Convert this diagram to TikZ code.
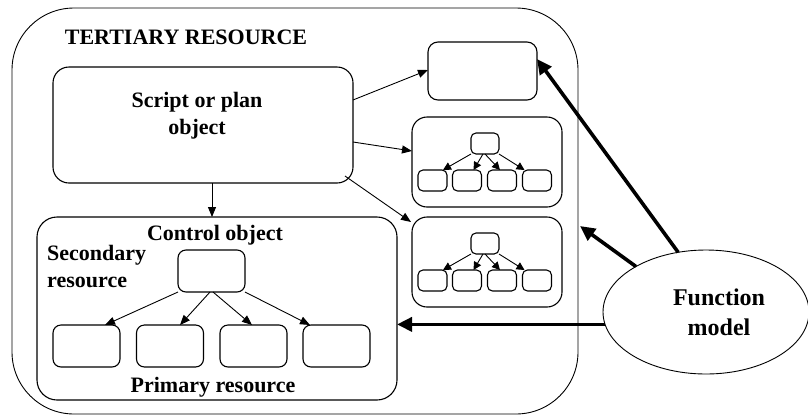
\documentclass[tikz,border=0pt]{standalone}
\usepackage{fontspec}
\setmainfont{Liberation Serif}
\usetikzlibrary{arrows.meta,calc,shapes.geometric}
\begin{document}
\begin{tikzpicture}[x=1pt,y=-1pt,
  rbox/.style={draw,line width=1.1pt,rounded corners=#1,inner sep=0pt,outer sep=0pt},
  rbox/.default=8pt,
  lbl/.style={font=\fontsize{22}{27}\selectfont\bfseries,inner sep=0pt,align=center},
  thin/.style={line width=0.9pt,-{Triangle[length=10pt,width=8pt]}},
  small/.style={line width=0.9pt,-{Triangle[length=8pt,width=8pt]}},
  thick/.style={line width=3.6pt,-{Triangle[length=15pt,width=14pt]}}]
\useasboundingbox (0,0) rectangle (808,416);
% outer tertiary
\node[draw,line width=0.9pt,rounded corners=62pt,minimum width=566pt,minimum height=406pt,inner sep=0pt,outer sep=0pt] (tert) at (295,211) {};
\node[lbl,anchor=center] (tlab) at (186,37) {TERTIARY RESOURCE};
% script box
\node[rbox=16pt,minimum width=300pt,minimum height=116pt] (sp) at (203,125) {};
\node[lbl] (splab) at (197,116) {Script or plan\\object};
% top right box
\node[rbox=10pt,minimum width=109pt,minimum height=58pt] (tr) at (482.5,71) {};
% tree boxes
\foreach \i/\dy in {1/0,2/100}{
  \node[rbox=15pt,minimum width=150pt,minimum height=90pt] (tb\i) at (487,162+\dy) {};
  \node[rbox=5pt,minimum width=28pt,minimum height=21pt] (tt\i) at (485,143.5+\dy) {};
  \foreach \j/\cx in {1/432.5,2/467,3/502,4/537}{
    \node[rbox=5pt,minimum width=29pt,minimum height=21pt] (tb\i b\j) at (\cx,180.5+\dy) {};
  }
  \draw[small] (tt\i.south west) -- ($(tb\i b1.north east)+(-4,0)$);
  \draw[small] ($(tt\i.south)+(-2,0)$) -- ($(tb\i b2.north east)+(-8,0)$);
  \draw[small] (tt\i.south) -- ($(tb\i b3.north)+(-2,0)$);
  \draw[small] (tt\i.south east) -- ($(tb\i b4.north west)+(2,0)$);
}
% secondary resource
\node[rbox=20pt,minimum width=360pt,minimum height=183pt] (sec) at (217,308.5) {};
\node[lbl] (ctllab) at (215,235) {Control object};
\node[lbl,align=left,anchor=west] (seclab) at (47,266.5) {Secondary\\resource};
\node[lbl] (primlab) at (213,387) {Primary resource};
\node[rbox=8pt,minimum width=67pt,minimum height=42pt] (ctl) at (211.5,271) {};
\foreach \j/\cx in {1/86.5,2/170,3/253.5,4/336.5}{
  \node[rbox=8pt,minimum width=67pt,minimum height=42pt] (p\j) at (\cx,346) {};
}
\draw[thin] (ctl.south west) -- ($(p1.north)+(18.5,0)$);
\draw[thin] ($(ctl.south)+(-1.5,0)$) -- ($(p2.north)+(10,0)$);
\draw[thin] ($(ctl.south)+(1.5,0)$) -- ($(p3.north)+(-1.5,0)$);
\draw[thin] (ctl.south east) -- ($(p4.north west)+(7,0)$);
% function model
\node[draw,line width=0.9pt,ellipse,minimum width=206pt,minimum height=124pt,inner sep=0pt,outer sep=0pt] (fm) at (706,312) {};
\node[lbl,font=\fontsize{24}{30}\selectfont\bfseries] (fmlab) at (719,312) {Function\\model};
% thin connectors from script
\draw[thin] (sp.east |- 0,100) -- (tr.west |- 0,70);
\draw[thin] (sp.east |- 0,142) -- (tb1.west |- 0,151);
\draw[thin] ($(sp.south east)+(-8,-7)$) -- ($(tb2.north west)+(-1,5)$);
\draw[thin] (sp.south -| 212,0) -- (sec.north -| 212,0);
% thick connectors
\coordinate (hit) at (580,226);
\draw[thick] (fm.115) -- ($(tr.east)+(0,-12)$);
\draw[thick] (fm.147) -- (hit);
\draw[thick] (fm.187) -- (fm.187 -| sec.east);
\end{tikzpicture}
\end{document}
